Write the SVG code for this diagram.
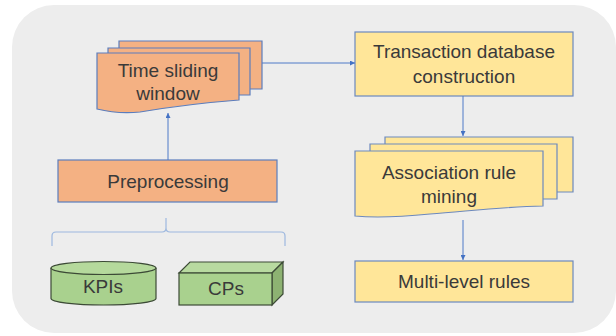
<svg xmlns="http://www.w3.org/2000/svg" width="616" height="336" viewBox="0 0 616 336">
<defs>
<style>
.t{font-family:"Liberation Sans",Arial,sans-serif;font-size:19px;fill:#3a3a3a;text-anchor:middle}
.or{fill:#F4B183;stroke:#5B7DBD;stroke-width:1.2}
.ye{fill:#FFE699;stroke:#6C89BE;stroke-width:1.2}
.gr{stroke:#3c4a36;stroke-width:1.2}
.cn{fill:none;stroke:#4F7BC8;stroke-width:1}
</style>
<marker id="ah" viewBox="0 0 10 10" refX="10" refY="5" markerWidth="5" markerHeight="5" orient="auto">
<path d="M0,0 L10,5 L0,10 z" fill="#4472C4"/>
</marker>
</defs>
<rect x="12" y="5" width="604" height="328" rx="42" fill="#EDEDED"/>

<g id="time-sliding-window">
<path class="or" d="M119,41 H262 V89 H119 Z"/>
<path class="or" d="M108,48 H250 V95 H108 Z"/>
<path class="or" d="M97,53 H239 V100 C200,103 170,107 140,112 C120,114 105,111 97,109 Z"/>
<text class="t" x="168" y="77">Time sliding</text>
<text class="t" x="168" y="100">window</text>
</g>

<g id="preprocessing">
<rect class="or" x="58" y="160" width="219" height="42"/>
<text class="t" x="168" y="188">Preprocessing</text>
</g>

<g id="kpis">
<path class="gr" fill="#A9D18E" d="M51,268 V298.5 A52.5,6.5 0 0 0 156,298.5 V268"/>
<ellipse class="gr" cx="103.5" cy="268" rx="52.5" ry="6.5" fill="#B5D99C"/>
<text class="t" x="103" y="293">KPIs</text>
</g>

<g id="cps">
<path class="gr" fill="#B8DAA0" d="M179,273 L190,262 H283 L272,273 Z"/>
<path class="gr" fill="#8DB272" d="M272,273 L283,262 V294 L272,305 Z"/>
<rect class="gr" x="179" y="273" width="93" height="32" fill="#A9D18E"/>
<text class="t" x="226" y="295">CPs</text>
</g>

<g id="transaction-database-construction">
<rect class="ye" x="355" y="32" width="218" height="64"/>
<text class="t" x="464" y="58">Transaction database</text>
<text class="t" x="464" y="83">construction</text>
</g>

<g id="association-rule-mining">
<path class="ye" d="M385,137 H573 V192 H385 Z"/>
<path class="ye" d="M370,144 H557 V199 H370 Z"/>
<path class="ye" d="M355,151 H543 V206 C500,207 470,211 430,214 C400,217 375,218 355,216 Z"/>
<text class="t" x="449" y="179">Association rule</text>
<text class="t" x="449" y="203">mining</text>
</g>

<g id="multi-level-rules">
<rect class="ye" x="355" y="261" width="218" height="41"/>
<text class="t" x="464" y="288">Multi-level rules</text>
</g>

<g id="connectors">
<line class="cn" x1="168" y1="160" x2="168" y2="113" marker-end="url(#ah)"/>
<line class="cn" x1="262" y1="63" x2="355" y2="63" marker-end="url(#ah)"/>
<line class="cn" x1="463" y1="96" x2="463" y2="136" marker-end="url(#ah)"/>
<line class="cn" x1="463" y1="220" x2="463" y2="260" marker-end="url(#ah)"/>
<path fill="none" stroke="#9DB8DF" stroke-width="1.2" d="M52,246 V236 Q52,232 56,232 H162 Q166,232 166,228 V218 M166,228 Q166,232 170,232 H281 Q285,232 285,236 V246"/>
</g>
</svg>
